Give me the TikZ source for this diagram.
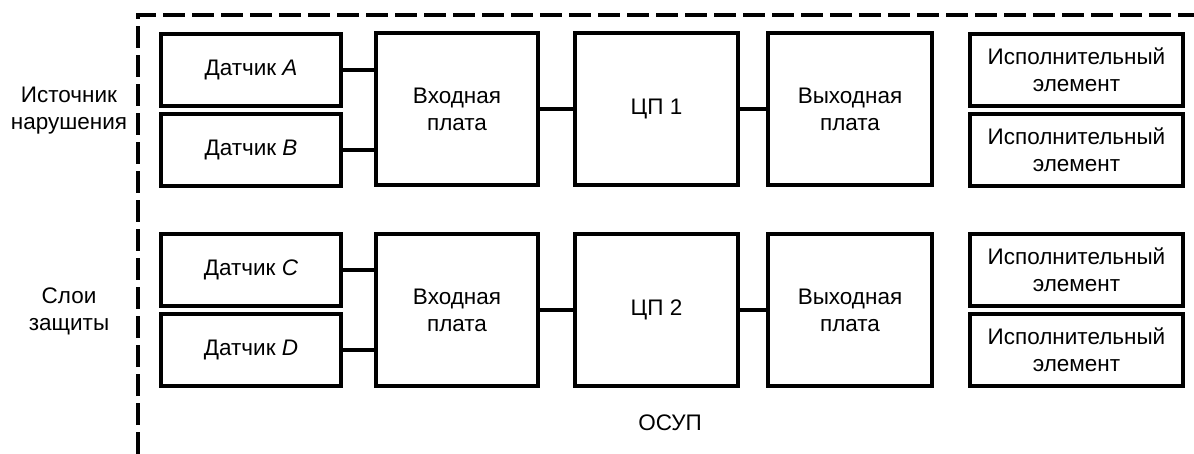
\documentclass[tikz,border=0pt]{standalone}
\usepackage{fontspec}
\setmainfont{Liberation Sans}
\begin{document}
\begin{tikzpicture}[x=1pt,y=-1pt,
  box/.style={draw,line width=3.8pt,rectangle,inner sep=0pt,align=center,font=\fontsize{22.5}{27}\selectfont},
  sensorbox/.style={box,minimum width=180pt,minimum height=72pt},
  boardbox/.style={box,minimum height=152pt},
  actbox/.style={box,minimum width=213pt,minimum height=72pt},
  lbl/.style={align=center,inner sep=0pt,font=\fontsize{22.5}{27}\selectfont},
  link/.style={line width=3.3pt},
  frame/.style={line width=3.5pt,dash pattern=on 22pt off 7pt}]
\useasboundingbox (0,0) rectangle (1194,454);
\draw[frame] (138,454) -- (138,15) -- (1200,15);
% upper row
\node[sensorbox] (sa) at (251,70) {Датчик \textit{A}};
\node[sensorbox] (sb) at (251,150) {Датчик \textit{B}};
\node[boardbox,minimum width=162pt] (in1) at (457,109) {Входная\\плата};
\node[boardbox,minimum width=163pt] (cpu1) at (656.5,109) {ЦП 1};
\node[boardbox,minimum width=164pt] (out1) at (850,109) {Выходная\\плата};
\node[actbox] (a1) at (1076.5,70) {Исполнительный\\элемент};
\node[actbox] (a2) at (1076.5,150) {Исполнительный\\элемент};
\draw[link] (sa.east) -- (sa.east -| in1.west);
\draw[link] (sb.east) -- (sb.east -| in1.west);
\draw[link] (in1.east) -- (cpu1.west);
\draw[link] (cpu1.east) -- (out1.west);
% lower row
\node[sensorbox] (sc) at (251,270) {Датчик \textit{C}};
\node[sensorbox] (sd) at (251,350) {Датчик \textit{D}};
\node[boardbox,minimum width=162pt] (in2) at (457,310) {Входная\\плата};
\node[boardbox,minimum width=163pt] (cpu2) at (656.5,310) {ЦП 2};
\node[boardbox,minimum width=164pt] (out2) at (850,310) {Выходная\\плата};
\node[actbox] (a3) at (1076.5,270) {Исполнительный\\элемент};
\node[actbox] (a4) at (1076.5,350) {Исполнительный\\элемент};
\draw[link] (sc.east) -- (sc.east -| in2.west);
\draw[link] (sd.east) -- (sd.east -| in2.west);
\draw[link] (in2.east) -- (cpu2.west);
\draw[link] (cpu2.east) -- (out2.west);
% labels
\node[lbl] (src) at (69,111) {Источник\\нарушения};
\node[lbl] (layers) at (69,311) {Слои\\защиты};
\node[lbl] (osup) at (670,423) {ОСУП};
\end{tikzpicture}
\end{document}
